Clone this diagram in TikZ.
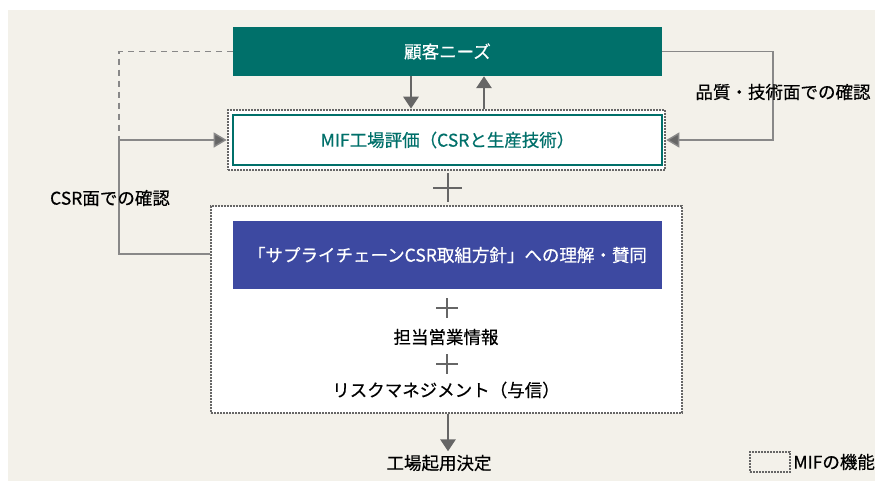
\documentclass[tikz,border=0pt]{standalone}
\usepackage{fontspec}
\setmainfont{Noto Sans CJK JP}[FakeBold=0.5]
\usetikzlibrary{arrows.meta,positioning,calc}
\definecolor{bgbeige}{HTML}{F3F1EA}
\definecolor{mifteal}{HTML}{00706A}
\definecolor{mifblue}{HTML}{3D49A1}
\definecolor{arrgray}{HTML}{666666}
\definecolor{dotgray}{HTML}{666666}
\definecolor{lingray}{HTML}{888888}

\begin{document}
\begin{tikzpicture}[x=1pt, y=-1pt, font=\fontsize{17.5}{21}\selectfont,
  box/.style={minimum width=429pt, inner sep=0pt, text=white},
  frame/.style={draw=dotgray, line width=2.6pt, dash pattern=on 1.9pt off 1.1pt, fill=white, inner sep=0pt},
  bigarrow/.style={draw=arrgray, line width=2.8pt, -{Triangle[length=12pt,width=15pt]}},
  loopline/.style={draw=lingray, line width=1.4pt},
  looparrow/.style={loopline, -{Triangle[length=13pt,width=15pt,fill=arrgray]}},
  plusline/.style={draw=arrgray, line width=2pt}]
\useasboundingbox (0,0) rectangle (875,482);
\fill[bgbeige] (8,10) rectangle (875,481);

\node[box, fill=mifteal, minimum height=49pt] (needs) at (447.5,51.5) {顧客ニーズ};
\node[frame, minimum width=437pt, minimum height=60pt] (mifframe) at (446.5,140) {};
\node[box, fill=white, draw=mifteal, line width=1.5pt, minimum height=50pt, text=mifteal] (mif) at (447.5,140) {MIF工場評価（CSRと生産技術）};
\draw[plusline] (447.5,173) -- (447.5,202) (433,188) -- (462,188);

\node[frame, minimum width=471pt, minimum height=207pt] (bigframe) at (446.5,309.5) {};
\node[box, fill=mifblue, minimum height=68pt] (policy) at (447.5,255) {「サプライチェーンCSR取組方針」への理解・賛同};
\draw[plusline] (447,298) -- (447,318) (436,308) -- (458,308);
\node (sales) at (446,337) {担当営業情報};
\draw[plusline] (447,354) -- (447,374) (436,364) -- (458,364);
\node (risk) at (446,390) {リスクマネジメント（与信）};

\node (decide) at (439,463) {工場起用決定};
\draw[bigarrow] (bigframe.south -| decide.north) ++(9,0) coordinate (dtop) -- (dtop |- decide.north);

\draw[bigarrow] (411,0 |- needs.south) -- (411,0 |- mifframe.north);
\draw[bigarrow] (484,0 |- mifframe.north) -- (484,0 |- needs.south);

\coordinate (rq) at (773,51.5);
\draw[looparrow] (needs.east) -- (rq) |- (mifframe.east);
\node at (783,92) {品質・技術面での確認};

\coordinate (lq) at (119,51.5);
\coordinate (lm) at (119,140);
\draw[loopline, dash pattern=on 6pt off 5pt] (needs.west) -- (lq) -- (lm);
\draw[looparrow] (lm) -- (mifframe.west);
\draw[loopline] (lm) -- (119,254) -- (119,254 -| bigframe.west);
\node at (110,198) {CSR面での確認};

\node[frame, fill=none, line width=2.4pt, minimum width=40pt, minimum height=20pt] (legend) at (770,462) {};
\node[right=2pt of legend, inner sep=0pt] (legendtext) {MIFの機能};
\end{tikzpicture}
\end{document}
